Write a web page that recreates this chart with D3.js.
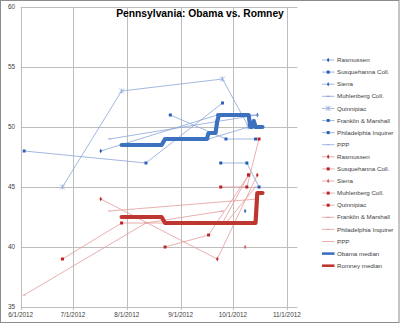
<!DOCTYPE html>
<html>
<head>
<meta charset="utf-8">
<script src="https://cdnjs.cloudflare.com/ajax/libs/d3/7.8.5/d3.min.js"></script>
<style>
  body { margin: 0; background: #fff; }
  svg { display: block; font-family: "Liberation Sans", Arial, sans-serif; }
</style>
</head>
<body>
<svg id="chart" width="400" height="324"></svg>
<script>
// ---- data ----
const pollsters = ["Rasmussen", "Susquehanna Coll.", "Siena", "Muhlenberg Coll.",
  "Quinnipiac", "Franklin & Marshall", "Philadelphia Inquirer", "PPP"];

const rasmussenDates = ["2012-07-17", "2012-09-22", "2012-10-15"];
const rasmussenObama = [48, 51, 51];
const rasmussenRomney = [44, 39, 46];

const susquehannaDates = ["2012-09-24", "2012-10-09", "2012-10-16"];
const susquehannaObama = [47, 47, 45];
const susquehannaRomney = [45, 45, 49];

const sienaDates = ["2012-10-08"];
const sienaObama = [43];
const sienaRomney = [40];

const muhlenbergDates = ["2012-08-23", "2012-09-17", "2012-10-10"];
const muhlenbergObama = [49, 49, 50];
const muhlenbergRomney = [40, 41, 46];

const quinnipiacDates = ["2012-06-25", "2012-07-29", "2012-09-25", "2012-10-10"];
const quinnipiacObama = [45, 53, 54, 50];
const quinnipiacRomney = [39, 42, 42, 46];

const fandmDates = ["2012-06-03", "2012-08-12", "2012-09-25"];
const fandmObama = [48, 47, 52];
const fandmRomney = [36, 42, 43];

const inquirerDates = ["2012-08-26", "2012-09-27", "2012-10-14"];
const inquirerObama = [51, 49, 49];
const inquirerRomney = [42, 42, 45];

const pppDates = ["2012-07-22", "2012-10-15"];
const pppObama = [49, 51];
const pppRomney = [43, 44];

const obamaMedianDates = ["2012-07-29", "2012-08-21", "2012-08-23", "2012-09-16", "2012-09-17",
  "2012-09-21", "2012-09-22", "2012-09-23", "2012-10-10", "2012-10-11", "2012-10-12",
  "2012-10-13", "2012-10-14", "2012-10-18"];
const obamaMedianValues = [48.5, 48.5, 49, 49, 49.5, 49.5, 50.5, 51, 51, 50, 50, 50.5, 50, 50];

const romneyMedianDates = ["2012-07-29", "2012-08-21", "2012-08-23", "2012-10-14", "2012-10-15", "2012-10-18"];
const romneyMedianValues = [42.5, 42.5, 42, 42, 44.5, 44.5];

const yTicks = [35, 40, 45, 50, 55, 60];

// ---- styling per series ----
const obamaSeries = [
  { dates: rasmussenDates, values: rasmussenObama, marker: "diamond", mc: "#2a5aa8" },
  { dates: susquehannaDates, values: susquehannaObama, marker: "square", mc: "#1f5bb5" },
  { dates: sienaDates, values: sienaObama, marker: "diamond", mc: "#3b6fc0" },
  { dates: muhlenbergDates, values: muhlenbergObama, marker: "dash", mc: "#7f9fd4" },
  { dates: quinnipiacDates, values: quinnipiacObama, marker: "star", mc: "#8eaad8" },
  { dates: fandmDates, values: fandmObama, marker: "square", mc: "#2e63b8" },
  { dates: inquirerDates, values: inquirerObama, marker: "square", mc: "#2a5fb8" },
  { dates: pppDates, values: pppObama, marker: "dash", mc: "#9bb3dd" }
];
const romneySeries = [
  { dates: rasmussenDates, values: rasmussenRomney, marker: "diamond", mc: "#c0282a" },
  { dates: susquehannaDates, values: susquehannaRomney, marker: "square", mc: "#b81f22" },
  { dates: sienaDates, values: sienaRomney, marker: "diamond", mc: "#d06a6a" },
  { dates: muhlenbergDates, values: muhlenbergRomney, marker: "square", mc: "#b82a2a" },
  { dates: quinnipiacDates, values: quinnipiacRomney, marker: "square", mc: "#c02020" },
  { dates: fandmDates, values: fandmRomney, marker: "dash", mc: "#e09a9a" },
  { dates: inquirerDates, values: inquirerRomney, marker: "dash", mc: "#e3a2a2" },
  { dates: pppDates, values: pppRomney, marker: "dash", mc: "#e6aaaa" }
];
const blueLine = "#8aa6d8";
const redLine = "#e49a9a";
const obamaMedianColor = "#3c71bf";
const romneyMedianColor = "#be3630";

const svg = d3.select("#chart");
const parse = d3.utcParse("%Y-%m-%d");

const x = d3.scaleUtc()
  .domain([Date.UTC(2012, 5, 1), Date.UTC(2012, 10, 7)])
  .range([20.7, 297.3]);
const y = d3.scaleLinear().domain([35, 60]).range([307, 7]);

// outer frame
svg.append("rect")
  .attr("x", 0.5).attr("y", 0.5).attr("width", 398.5).attr("height", 322)
  .attr("fill", "#fff").attr("stroke", "#8c8c8c");

// gridlines
const grid = svg.append("g").attr("stroke", "#bdbdbd").attr("stroke-width", 1);
grid.selectAll(".h").data(yTicks).enter().append("line")
  .attr("x1", x.range()[0]).attr("x2", x.range()[1])
  .attr("y1", d => Math.round(y(d)) + 0.5).attr("y2", d => Math.round(y(d)) + 0.5);

const monthTicks = x.ticks(d3.utcMonth.every(1)).filter(d => d <= Date.UTC(2012, 10, 1));
grid.selectAll(".v").data(monthTicks).enter().append("line")
  .attr("x1", d => Math.round(x(d)) + 0.5).attr("x2", d => Math.round(x(d)) + 0.5)
  .attr("y1", y(60)).attr("y2", y(35) + 3);

// axis labels
svg.append("g").selectAll("text").data(yTicks).enter().append("text")
  .attr("x", 15).attr("y", d => y(d)).attr("dy", "0.35em")
  .attr("text-anchor", "end").attr("font-size", 6.4).attr("fill", "#404040")
  .text(d => d);

const fmt = d3.utcFormat("%-m/%-d/%Y");
svg.append("g").selectAll("text").data(monthTicks).enter().append("text")
  .attr("x", d => x(d)).attr("y", 317)
  .attr("text-anchor", "middle").attr("font-size", 6.4).attr("fill", "#404040")
  .text(d => fmt(d));

// title
svg.append("text")
  .attr("x", 200).attr("y", 16.5).attr("text-anchor", "middle")
  .attr("font-size", 10.3).attr("font-weight", "bold").attr("fill", "#000")
  .text("Pennsylvania: Obama vs. Romney");

function drawMarker(g, type, cx, cy, color) {
  if (type === "square") {
    g.append("rect").attr("x", cx - 1.5).attr("y", cy - 1.5)
      .attr("width", 3).attr("height", 3).attr("fill", color);
  } else if (type === "diamond") {
    g.append("path").attr("d", d3.symbol().type(d3.symbolDiamond).size(6)())
      .attr("transform", `translate(${cx},${cy})`).attr("fill", color);
  } else if (type === "dash") {
    g.append("line").attr("x1", cx - 1.5).attr("x2", cx + 1.5)
      .attr("y1", cy).attr("y2", cy).attr("stroke", color).attr("stroke-width", 1);
  } else if (type === "star") {
    const r = 2.4;
    g.append("path")
      .attr("d", `M${cx - r},${cy - r}L${cx + r},${cy + r}M${cx - r},${cy + r}L${cx + r},${cy - r}M${cx},${cy - r}L${cx},${cy + r}`)
      .attr("stroke", color).attr("stroke-width", 0.8).attr("fill", "none");
  }
}

const line = d3.line().x(d => x(d[0])).y(d => y(d[1]));

function drawSeries(list, lineColor) {
  list.forEach(s => {
    const pts = s.dates.map((d, i) => [parse(d), s.values[i]]);
    const g = svg.append("g");
    if (pts.length > 1) {
      g.append("path").datum(pts).attr("d", line)
        .attr("fill", "none").attr("stroke", lineColor).attr("stroke-width", 0.8);
    }
    pts.forEach(p => drawMarker(g, s.marker, x(p[0]), y(p[1]), s.mc));
  });
}

drawSeries(obamaSeries, blueLine);
drawSeries(romneySeries, redLine);

// medians
function drawMedian(dates, values, color) {
  const pts = dates.map((d, i) => [parse(d), values[i]]);
  svg.append("path").datum(pts).attr("d", line)
    .attr("fill", "none").attr("stroke", color).attr("stroke-width", 4.2)
    .attr("stroke-linejoin", "round").attr("stroke-linecap", "round");
}
drawMedian(obamaMedianDates, obamaMedianValues, obamaMedianColor);
drawMedian(romneyMedianDates, romneyMedianValues, romneyMedianColor);

// legend
const legendItems = [];
obamaSeries.forEach((s, i) => legendItems.push({ name: pollsters[i], color: blueLine, marker: s.marker, mc: s.mc, w: 0.8 }));
romneySeries.forEach((s, i) => legendItems.push({ name: pollsters[i], color: redLine, marker: s.marker, mc: s.mc, w: 0.8 }));
legendItems.push({ name: "Obama median", color: obamaMedianColor, marker: null, w: 2.6 });
legendItems.push({ name: "Romney median", color: romneyMedianColor, marker: null, w: 2.6 });

const legend = svg.append("g");
legendItems.forEach((it, i) => {
  const ly = 60 + i * 12.1;
  const g = legend.append("g");
  g.append("line").attr("x1", 322).attr("x2", 334.5).attr("y1", ly).attr("y2", ly)
    .attr("stroke", it.color).attr("stroke-width", it.w);
  if (it.marker) drawMarker(g, it.marker, 328.2, ly, it.mc);
  g.append("text").attr("x", 337).attr("y", ly).attr("dy", "0.35em")
    .attr("font-size", 6.2).attr("fill", "#404040").text(it.name);
});
</script>
</body>
</html>
